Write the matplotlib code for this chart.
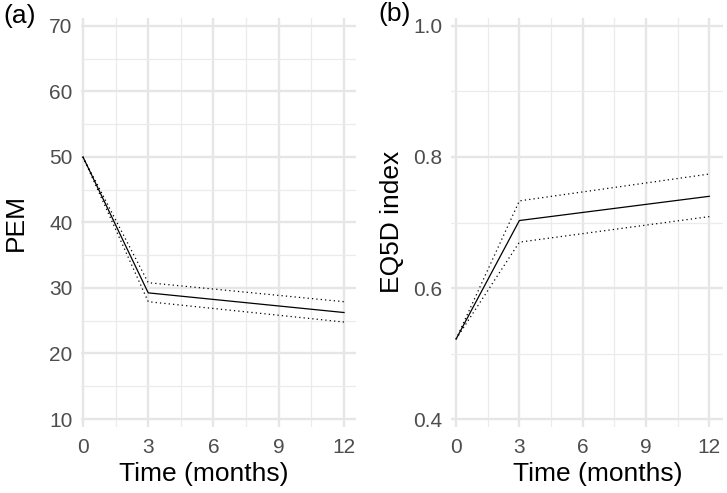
import numpy as np
import matplotlib.pyplot as plt
from matplotlib.ticker import FixedLocator

plt.rcParams['font.family'] = ['Liberation Sans', 'DejaVu Sans']

# follow-up times
months = [0, 3, 12]

# (a) PEM: mean and confidence limits
pem_mean = [50, 29.25, 26.25]
pem_upper = [50, 30.8, 27.9]
pem_lower = [50, 27.9, 24.8]

# (b) EQ5D index: mean and confidence limits
eq5d_mean = [0.522, 0.703, 0.740]
eq5d_upper = [0.522, 0.733, 0.774]
eq5d_lower = [0.522, 0.670, 0.709]

x_ticks = [0, 3, 6, 9, 12]
x_minor = [1.5, 4.5, 7.5, 10.5]
pem_ticks = [10, 20, 30, 40, 50, 60, 70]
pem_minor = [15, 25, 35, 45, 55, 65]
eq5d_ticks = [0.4, 0.6, 0.8, 1.0]
eq5d_minor = [0.5, 0.7, 0.9]

W, H = 727, 493
fig = plt.figure(figsize=(W / 100, H / 100), dpi=100)


def px_axes(left, right, top, bottom):
    return fig.add_axes([left / W, 1 - bottom / H, (right - left) / W, (bottom - top) / H])


def style(ax, yticks, yminor, ylabels):
    ax.set_xticks(x_ticks)
    ax.xaxis.set_minor_locator(FixedLocator(x_minor))
    ax.set_yticks(yticks)
    ax.set_yticklabels(ylabels)
    ax.yaxis.set_minor_locator(FixedLocator(yminor))
    ax.grid(which='major', color='#E6E6E6', linewidth=1.7)
    ax.grid(which='minor', color='#EBEBEB', linewidth=0.9)
    ax.set_axisbelow(True)
    for s in ax.spines.values():
        s.set_visible(False)
    ax.tick_params(which='both', length=0, labelsize=15, labelcolor='#4D4D4D')
    ax.tick_params(axis='x', pad=8)
    ax.tick_params(axis='y', pad=6)


def draw(ax, mean, upper, lower):
    ax.plot(months, mean, color='black', linewidth=0.9)
    ax.plot(months, upper, color='black', linewidth=0.9, linestyle=(0, (1, 2.5)))
    ax.plot(months, lower, color='black', linewidth=0.9, linestyle=(0, (1, 2.5)))


# panel (a)
ax1 = px_axes(81, 356, 18, 427)
draw(ax1, pem_mean, pem_upper, pem_lower)
ax1.set_xlim(-0.09, 12.55)
ax1.set_ylim(8.78, 71.2)
style(ax1, pem_ticks, pem_minor, [str(v) for v in pem_ticks])

# panel (b)
ax2 = px_axes(451, 723, 18, 427)
draw(ax2, eq5d_mean, eq5d_upper, eq5d_lower)
ax2.set_xlim(-0.24, 12.65)
ax2.set_ylim(0.3878, 1.0122)
style(ax2, eq5d_ticks, eq5d_minor, ['%.1f' % v for v in eq5d_ticks])

# axis titles
fig.text(204 / W, 1 - 474 / H, 'Time (months)', fontsize=19, ha='center', va='center')
fig.text(598 / W, 1 - 474 / H, 'Time (months)', fontsize=19, ha='center', va='center')
fig.text(16 / W, 1 - 222 / H, 'PEM', fontsize=19, ha='center', va='center', rotation=90)
fig.text(392 / W, 1 - 222 / H, 'EQ5D index', fontsize=19, ha='center', va='center', rotation=90)

# panel tags
fig.text(20 / W, 1 - 16 / H, '(a)', fontsize=19, ha='center', va='center')
fig.text(395 / W, 1 - 14 / H, '(b)', fontsize=19, ha='center', va='center')

fig.savefig('out.png', dpi=100)
